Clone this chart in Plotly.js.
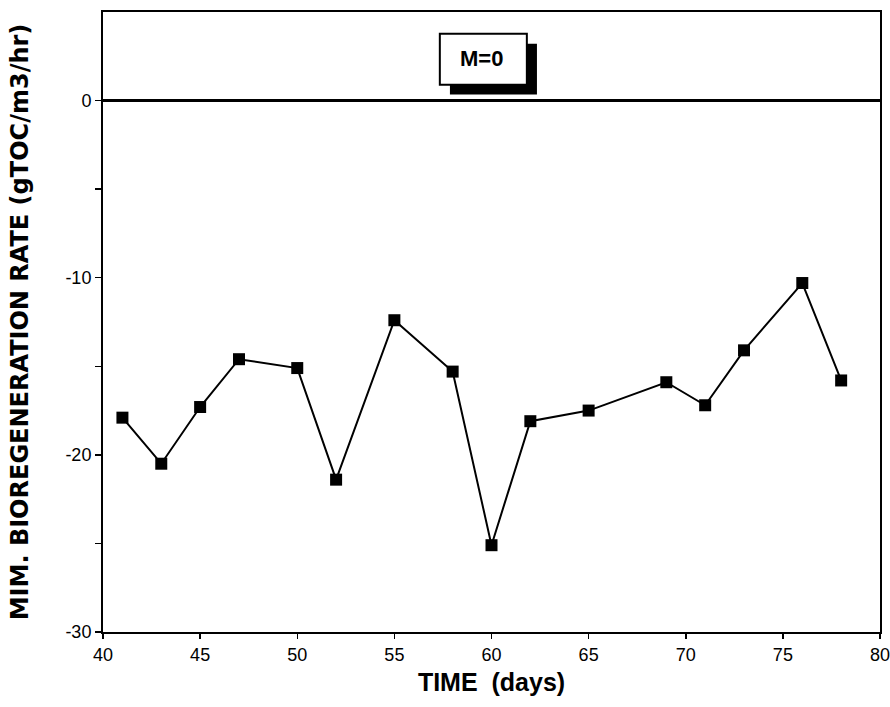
<!DOCTYPE html>
<html>
<head>
<meta charset="utf-8">
<script src="https://cdn.plot.ly/plotly-3.0.1.min.js"></script>
<style>html,body{margin:0;padding:0;background:#fff;}#chart{width:890px;height:707px;}</style>
</head>
<body>
<div id="chart"></div>
<script>
const timeDays = [41, 43, 45, 47, 50, 52, 55, 58, 60, 62, 65, 69, 71, 73, 76, 78];
const rateValues = [-17.9, -20.5, -17.3, -14.6, -15.1, -21.4, -12.4, -15.3, -25.1, -18.1, -17.5, -15.9, -17.2, -14.1, -10.3, -15.8];
const yTickVals = [-30, -25, -20, -15, -10, -5, 0];
const yTickText = ['-30', '', '-20', '', '-10', '', '0'];
const xTickVals = [40, 45, 50, 55, 60, 65, 70, 75, 80];
const xTickText = ['40', '45', '50', '55', '60', '65', '70', '75', '80'];
const labelText = '<b>M=0</b>';

const font = 'Liberation Sans, Arial, sans-serif';
const wide = 'DejaVu Sans, Liberation Sans, sans-serif';

const trace = {
  x: timeDays, y: rateValues, mode: 'lines+markers', type: 'scatter',
  line: {color: '#000', width: 2},
  marker: {symbol: 'square', size: 12, color: '#000'},
  showlegend: false, cliponaxis: false
};

const layout = {
  width: 890, height: 707,
  margin: {l: 103, r: 10, t: 12, b: 75},
  paper_bgcolor: '#fff', plot_bgcolor: '#fff',
  font: {family: font, color: '#000', size: 15},
  xaxis: {
    range: [40, 80], tickvals: xTickVals, ticktext: xTickText,
    ticks: 'outside', ticklen: 5, tickwidth: 1.5, tickcolor: '#000',
    ticklabeloverflow: 'allow',
    showline: true, linecolor: '#000', linewidth: 2, mirror: true,
    showgrid: false, zeroline: false,
    tickfont: {size: 18, family: font},
    title: {text: '<b>TIME  (days)</b>', font: {size: 25, family: font}, standoff: 10}
  },
  yaxis: {
    range: [-30, 5], tickvals: yTickVals, ticktext: yTickText,
    ticks: 'outside', ticklen: 6, tickwidth: 1.5, tickcolor: '#000',
    ticklabeloverflow: 'allow',
    showline: true, linecolor: '#000', linewidth: 2, mirror: true,
    showgrid: false, zeroline: true, zerolinecolor: '#000', zerolinewidth: 2.5,
    tickfont: {size: 18, family: font},
    title: {text: '<b>MIM. BIOREGENERATION RATE (gTOC/m3/hr)</b>', font: {size: 24, family: wide}, standoff: 30}
  },
  shapes: [
    {type: 'rect', xref: 'x', yref: 'y', x0: 57.86, x1: 62.34, y0: 0.34, y1: 3.21,
     fillcolor: '#000', line: {width: 0}, layer: 'above'},
    {type: 'rect', xref: 'x', yref: 'y', x0: 57.34, x1: 61.82, y0: 0.9, y1: 3.77,
     fillcolor: '#fff', line: {color: '#000', width: 2}, layer: 'above'}
  ],
  annotations: [
    {x: 59.5, y: 2.35, xref: 'x', yref: 'y', text: labelText, showarrow: false,
     font: {size: 22, family: font, color: '#000'}}
  ]
};

Plotly.newPlot('chart', [trace], layout, {displayModeBar: false, staticPlot: true});
</script>
</body>
</html>
